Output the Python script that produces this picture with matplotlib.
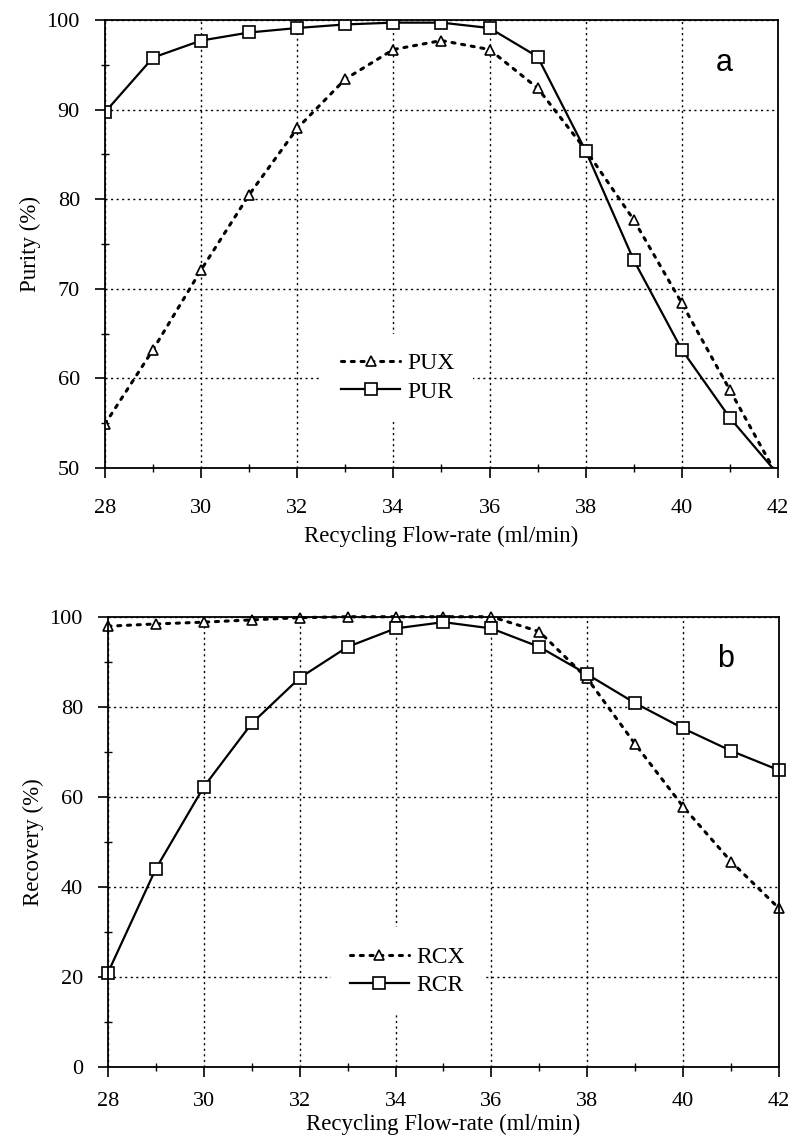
import numpy as np
import matplotlib
matplotlib.use('Agg')
import matplotlib.pyplot as plt
from matplotlib.ticker import MultipleLocator

flow = [28, 29, 30, 31, 32, 33, 34, 35, 36, 37, 38, 39, 40, 41, 42]

pux = [54.9, 63.2, 72.1, 80.5, 87.9, 93.4, 96.7, 97.7, 96.7, 92.4, 85.5, 77.7, 68.4, 58.7, 49.0]
pur = [89.7, 95.8, 97.7, 98.6, 99.1, 99.5, 99.7, 99.7, 99.1, 95.9, 85.4, 73.2, 63.2, 55.6, 49.3]

rcx = [97.9, 98.4, 98.8, 99.3, 99.8, 100.0, 100.0, 100.0, 100.0, 96.7, 86.3, 71.7, 57.8, 45.6, 35.2]
rcr = [20.9, 44.0, 62.2, 76.3, 86.4, 93.3, 97.4, 98.8, 97.4, 93.3, 87.2, 80.8, 75.2, 70.2, 65.9]

plt.rcParams['font.family'] = ['Liberation Serif', 'DejaVu Serif']

fig = plt.figure(figsize=(7.88, 11.4), dpi=100)
ax1 = fig.add_axes([0.1332, 0.5895, 0.854, 0.393])
ax2 = fig.add_axes([0.137, 0.0643, 0.8515, 0.3947])


def style(ax, ymin, ymax, ystep, xpad, lpad):
    ax.set_xlim(28, 42)
    ax.set_ylim(ymin, ymax)
    ax.xaxis.set_major_locator(MultipleLocator(2))
    ax.xaxis.set_minor_locator(MultipleLocator(1))
    ax.yaxis.set_major_locator(MultipleLocator(ystep))
    ax.yaxis.set_minor_locator(MultipleLocator(ystep / 2))
    ax.tick_params(which='major', direction='out', length=7, width=1.2, labelsize=16)
    ax.tick_params(which='minor', direction='inout', length=6, width=1.0)
    ax.tick_params(axis='x', pad=xpad)
    ax.tick_params(axis='y', pad=11)
    ax.grid(True, which='major', color='black', linestyle=(0, (1.5, 2.5)), linewidth=1.0)
    for s in ax.spines.values():
        s.set_linewidth(1.3)
    ax.set_xlabel('Recycling Flow-rate (ml/min)', fontsize=16.5, labelpad=lpad)


style(ax1, 50, 100, 10, 15, 6)
ax1.plot(flow, pux, color='black', linestyle=(0, (1, 2.2)), linewidth=2.2,
         dash_capstyle='round', marker='^', markersize=7, markerfacecolor='white',
         markeredgewidth=1.2, markevery=list(range(14)), label='PUX')
ax1.plot(flow, pur, color='black', linestyle='-', linewidth=1.6,
         marker='s', markersize=8, markerfacecolor='white',
         markeredgewidth=1.2, markevery=list(range(14)), label='PUR')
ax1.set_ylabel('Purity (%)', fontsize=16.5, labelpad=4)
ax1.text(0.92, 0.905, 'a', transform=ax1.transAxes, fontsize=22,
         family='Liberation Sans', ha='center', va='center')
leg1 = ax1.legend(loc='center', bbox_to_anchor=(0.435, 0.202), fontsize=17,
                  handlelength=2.5, handletextpad=0.3, labelspacing=0.3,
                  frameon=True, fancybox=False, framealpha=1, borderpad=0.8)
leg1.get_frame().set_edgecolor('none')

style(ax2, 0, 100, 20, 11, 2)
ax2.plot(flow, rcx, color='black', linestyle=(0, (1, 2.2)), linewidth=2.2,
         dash_capstyle='round', marker='^', markersize=7, markerfacecolor='white',
         markeredgewidth=1.2, clip_on=False, label='RCX')
ax2.plot(flow, rcr, color='black', linestyle='-', linewidth=1.6,
         marker='s', markersize=8, markerfacecolor='white',
         markeredgewidth=1.2, clip_on=False, label='RCR')
ax2.set_ylabel('Recovery (%)', fontsize=16.5, labelpad=4)
ax2.text(0.92, 0.905, 'b', transform=ax2.transAxes, fontsize=22,
         family='Liberation Sans', ha='center', va='center')
leg2 = ax2.legend(loc='center', bbox_to_anchor=(0.446, 0.212), fontsize=17,
                  handlelength=2.5, handletextpad=0.3, labelspacing=0.3,
                  frameon=True, fancybox=False, framealpha=1, borderpad=0.8)
leg2.get_frame().set_edgecolor('none')

fig.savefig('out.png', dpi=100)
